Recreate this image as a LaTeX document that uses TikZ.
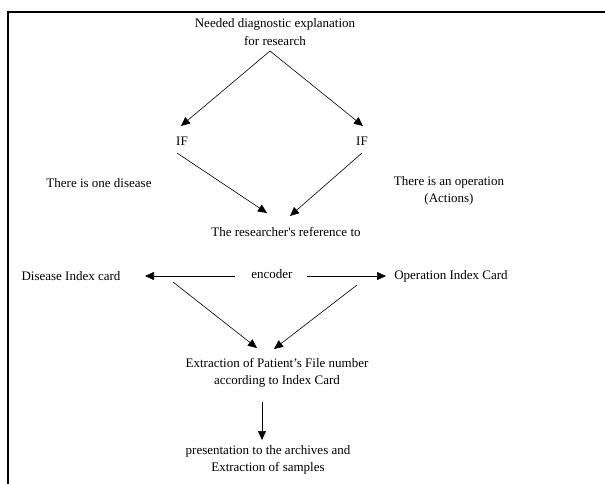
\documentclass[tikz,border=0pt]{standalone}
\usepackage{fontspec}
\setmainfont{Liberation Serif}
\usetikzlibrary{arrows.meta}
\begin{document}
\begin{tikzpicture}[x=1pt,y=-1pt,
  lbl/.style={inner sep=0pt,align=center,font=\fontsize{13}{17.5}\selectfont},
  arr/.style={-{Triangle[length=9pt,width=8pt]},line width=0.6pt}]
\useasboundingbox (0,0) rectangle (605,483);
\draw[line width=1.6pt] (8,600) -- (8,12) -- (700,12);
\node[lbl] (top) at (275,32) {Needed diagnostic explanation\\for research};
\node[lbl] (ifl) at (182,141) {IF};
\node[lbl] (ifr) at (362,141) {IF};
\node[lbl] (one) at (99,183) {There is one disease};
\node[lbl] (op) at (449,191) {There is an operation\\(Actions)};
\node[lbl] (ref) at (286,232) {The researcher\textquotesingle s reference to};
\node[lbl] (enc) at (272,274) {encoder};
\node[lbl] (dic) at (71,276) {Disease Index card};
\node[lbl] (oic) at (451,276) {Operation Index Card};
\node[lbl] (ext) at (277,373) {Extraction of Patient’s File number\\according to Index Card};
\node[lbl] (pres) at (268,460) {presentation to the archives and\\Extraction of samples};
\coordinate (t0) at (270,51);
\draw[arr] (t0) -- (181,126);
\draw[arr] (t0) -- (363,126);
\draw[arr] (177,153) -- (267,213);
\draw[arr] (362,153) -- (290,216);
\draw[arr] (235,276) -- (145,276);
\draw[arr] (307,276) -- (386,276);
\draw[arr] (173,282) -- (257,348);
\draw[arr] (357,285) -- (274,349);
\draw[arr] (262,402) -- (262,440);
\end{tikzpicture}
\end{document}
